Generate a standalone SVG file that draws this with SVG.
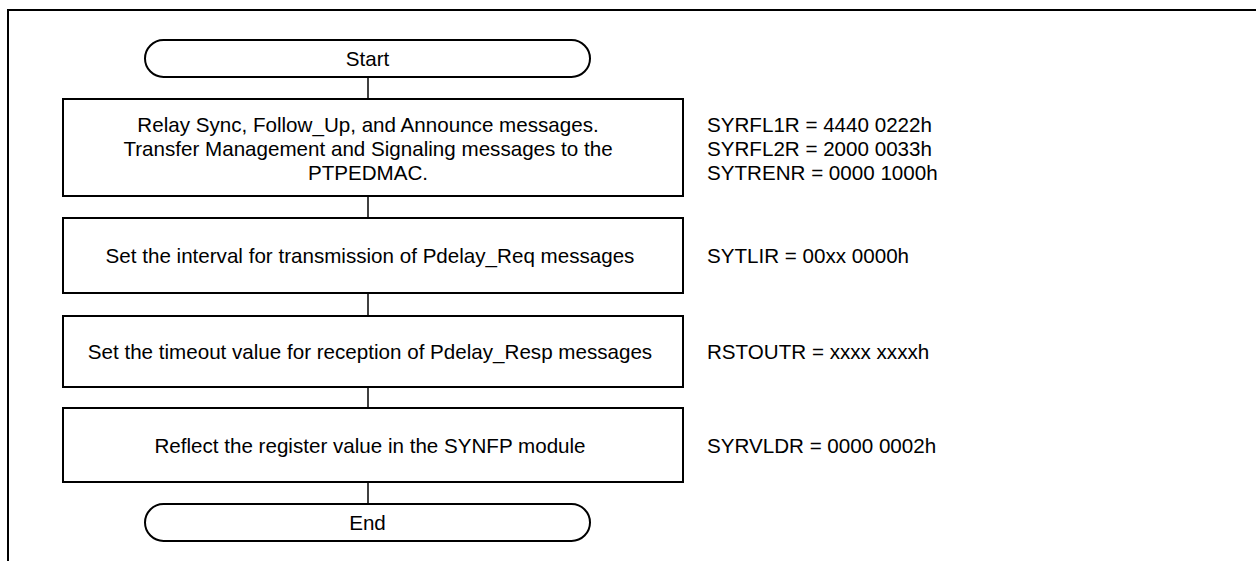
<svg xmlns="http://www.w3.org/2000/svg" width="1256" height="561" viewBox="0 0 1256 561">
<style>
.shape{fill:#fff;stroke:#000;stroke-width:2}
.frame{fill:none;stroke:#000;stroke-width:2}
.conn{fill:none;stroke:#000;stroke-width:1.5}
text{font-family:"Liberation Sans",Arial,sans-serif;font-size:20.6px;fill:#000}
.c{text-anchor:middle;dominant-baseline:central}
.l{dominant-baseline:central}
</style>
<rect width="1256" height="561" fill="#fff"/>
<path class="frame" d="M8,561 V10 H1256"/>
<g id="connectors">
<line class="conn" x1="368" y1="77" x2="368" y2="99"/>
<line class="conn" x1="368" y1="196" x2="368" y2="218"/>
<line class="conn" x1="368" y1="293" x2="368" y2="316"/>
<line class="conn" x1="368" y1="387" x2="368" y2="408"/>
<line class="conn" x1="368" y1="482" x2="368" y2="504"/>
</g>
<g id="start">
<rect class="shape" x="145" y="40" width="445" height="37" rx="18.5"/>
<text class="c" x="367.5" y="58.5">Start</text>
</g>
<g id="step1">
<rect class="shape" x="63" y="99" width="620" height="97"/>
<text class="c" x="368" y="124">Relay Sync, Follow_Up, and Announce messages.</text>
<text class="c" x="368" y="148">Transfer Management and Signaling messages to the</text>
<text class="c" x="368" y="172">PTPEDMAC.</text>
</g>
<g id="note1">
<text class="l" x="707" y="124">SYRFL1R = 4440 0222h</text>
<text class="l" x="707" y="148">SYRFL2R = 2000 0033h</text>
<text class="l" x="707" y="172">SYTRENR = 0000 1000h</text>
</g>
<g id="step2">
<rect class="shape" x="63" y="218" width="620" height="75"/>
<text class="c" x="370" y="255.5">Set the interval for transmission of Pdelay_Req messages</text>
</g>
<g id="note2"><text class="l" x="707" y="255.5">SYTLIR = 00xx 0000h</text></g>
<g id="step3">
<rect class="shape" x="63" y="316" width="620" height="71"/>
<text class="c" x="370" y="351.5">Set the timeout value for reception of Pdelay_Resp messages</text>
</g>
<g id="note3"><text class="l" x="707" y="351.5">RSTOUTR = xxxx xxxxh</text></g>
<g id="step4">
<rect class="shape" x="63" y="408" width="620" height="74"/>
<text class="c" x="370" y="445">Reflect the register value in the SYNFP module</text>
</g>
<g id="note4"><text class="l" x="707" y="445">SYRVLDR = 0000 0002h</text></g>
<g id="end">
<rect class="shape" x="145" y="504" width="445" height="37" rx="18.5"/>
<text class="c" x="367.5" y="522.5">End</text>
</g>
</svg>
